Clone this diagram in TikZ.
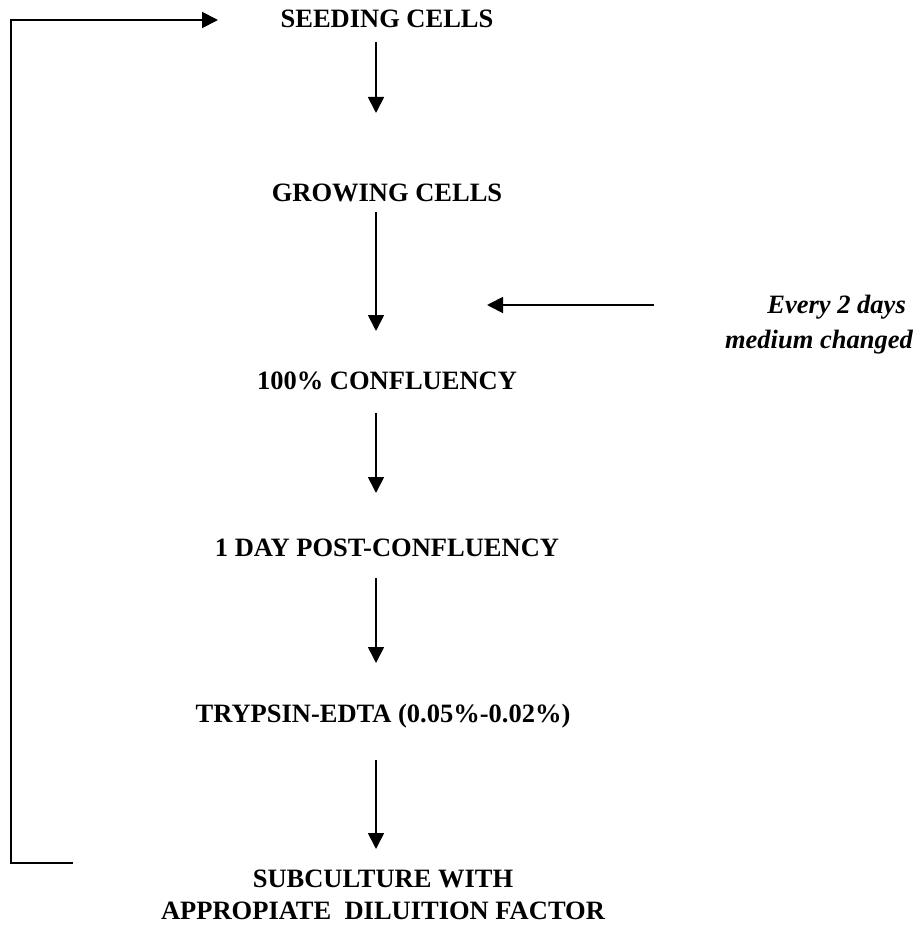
\documentclass[tikz,border=0pt]{standalone}
\usepackage{fontspec}
\setmainfont{Liberation Serif}
\usetikzlibrary{arrows.meta}
\tikzset{
  lbl/.style={anchor=base, inner sep=0pt, font=\fontsize{26.5}{32}\selectfont\bfseries},
  side/.style={anchor=base east, inner sep=0pt, font=\fontsize{26.5}{32}\selectfont\bfseries\itshape},
  conn/.style={line width=1.8pt, -{Triangle[width=16pt,length=16pt]}},
  plain/.style={line width=1.8pt}
}
\begin{document}
\begin{tikzpicture}[x=1pt,y=-1pt]
\useasboundingbox (0,0) rectangle (913,925);
\node[lbl] (seed) at (387,28) {SEEDING CELLS};
\node[lbl] (grow) at (387,202) {GROWING CELLS};
\node[lbl] (conf) at (387,389) {100\% CONFLUENCY};
\node[lbl] (post) at (387,556) {1 DAY POST-CONFLUENCY};
\node[lbl] (tryp) at (383,722) {TRYPSIN-EDTA (0.05\%-0.02\%)};
\node[lbl] (sub1) at (383,887) {SUBCULTURE WITH};
\node[lbl] (sub2) at (383,919) {APPROPIATE\ \ DILUITION FACTOR};
\node[side] (ev1) at (906,313) {Every 2 days};
\node[side] (ev2) at (913,348) {medium changed};
% arrow endpoints
\coordinate (a1s) at (376,42);  \coordinate (a1e) at (376,113);
\coordinate (a2s) at (376,212); \coordinate (a2e) at (376,331);
\coordinate (a3s) at (376,413); \coordinate (a3e) at (376,493);
\coordinate (a4s) at (376,578); \coordinate (a4e) at (376,663);
\coordinate (a5s) at (376,760); \coordinate (a5e) at (376,849);
\coordinate (ms) at (654,305);  \coordinate (me) at (487,305);
\coordinate (fb0) at (73,863);  \coordinate (fb1) at (11,863);
\coordinate (fb2) at (11,20);   \coordinate (fb3) at (218,20);
\draw[conn] (a1s) -- (a1e);
\draw[conn] (a2s) -- (a2e);
\draw[conn] (a3s) -- (a3e);
\draw[conn] (a4s) -- (a4e);
\draw[conn] (a5s) -- (a5e);
\draw[conn] (ms) -- (me);
\draw[conn] (fb0) -- (fb1) -- (fb2) -- (fb3);
\end{tikzpicture}
\end{document}
